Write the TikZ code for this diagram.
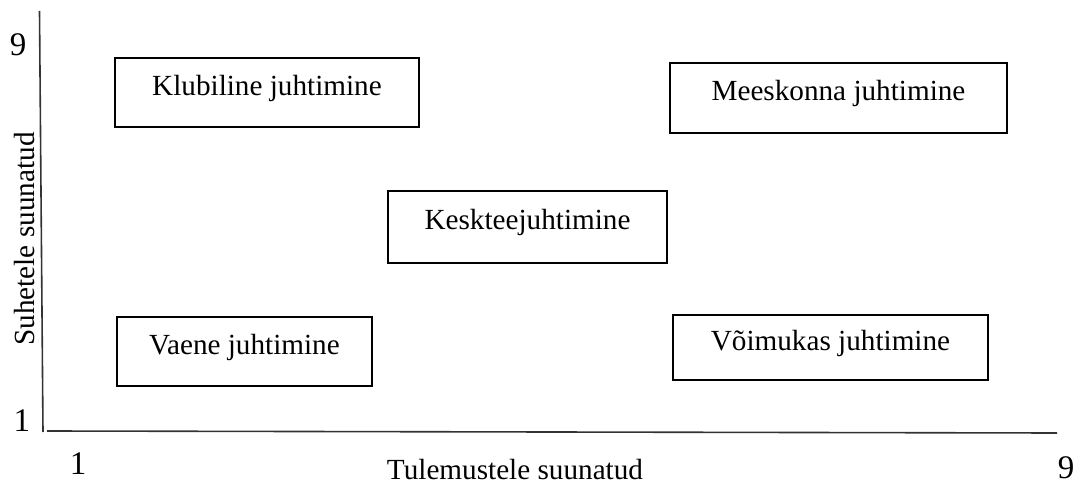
\documentclass[tikz,border=0pt]{standalone}
\usepackage{fontspec}
\setmainfont{Liberation Serif}
\usepackage{tikz}
\usetikzlibrary{positioning}

\tikzset{
  stylebox/.style={draw,thick,inner sep=0pt,text height=0.7em,text depth=0.4em},
  axisline/.style={draw,thick,black!80},
  scalenum/.style={font=\fontsize{16.5}{19}\selectfont}
}

\begin{document}
\begin{tikzpicture}[x=0.5pt,y=-0.5pt,font=\fontsize{14.6}{17}\selectfont]
\useasboundingbox (0,0) rectangle (1082,486);
\coordinate (ytop) at (39.5,11);
\coordinate (O) at (43,432);
\coordinate (xleft) at (47,431);
\coordinate (xright) at (1057,433);
\draw[axisline] (ytop) -- (O);
\draw[axisline] (xleft) -- (xright);
\node[scalenum] (y9) at (18,45) {9};
\node[scalenum] (y1) at (22,421) {1};
\node[scalenum] (x1) at (78,464) {1};
\node[scalenum] (x9) at (1066,468) {9};
\node (xlab) at (515,470) {Tulemustele suunatud};
\node[rotate=90] (ylab) at (25,239) {Suhetele suunatud};
\node[stylebox,minimum width=152pt,minimum height=34.5pt] (klubi) at (267,92.5) {Klubiline juhtimine};
\node[stylebox,minimum width=168.5pt,minimum height=35pt] (meeskond) at (838.5,98) {Meeskonna juhtimine};
\node[stylebox,minimum width=139.5pt,minimum height=36pt] (kesktee) at (527.5,227) {Keskteejuhtimine};
\node[stylebox,minimum width=127.5pt,minimum height=34.5pt] (vaene) at (244.5,351.5) {Vaene juhtimine};
\node[stylebox,minimum width=157.5pt,minimum height=32.5pt] (voimukas) at (830.5,347.5) {Võimukas juhtimine};
\end{tikzpicture}
\end{document}
